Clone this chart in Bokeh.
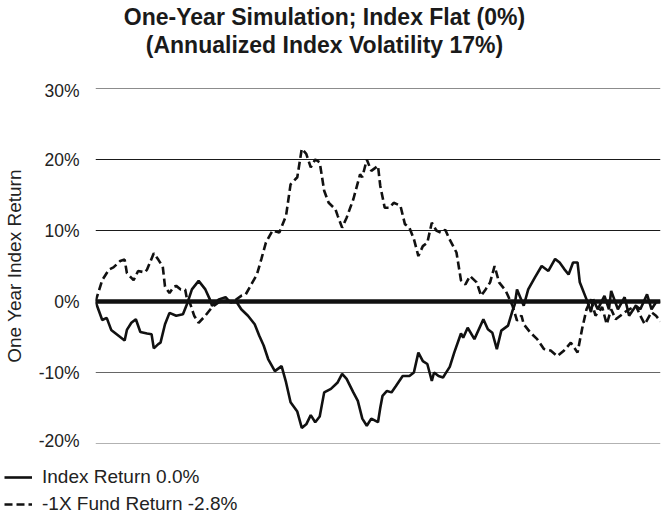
import numpy as np
from bokeh.plotting import figure
from bokeh.layouts import column
from bokeh.models import (Range1d, FixedTicker, NumeralTickFormatter, Span, Label,
                          Legend, LegendItem)
from bokeh.embed import file_html
from bokeh.resources import INLINE

# ---------------- data ----------------
title_line1 = "One-Year Simulation; Index Flat (0%)"
title_line2 = "(Annualized Index Volatility 17%)"
y_axis_label = "One Year Index Return"
y_ticks = [-0.2, -0.1, 0.0, 0.1, 0.2, 0.3]
legend_labels = ["Index Return 0.0%", "-1X Fund Return -2.8%"]

index_days = [0, 3, 5, 7, 9, 11, 13, 14, 16, 18, 20, 23, 25, 26, 28, 29, 31, 33, 36, 39,
              41, 43, 46, 49, 51, 52, 55, 58, 60, 63, 65, 68, 71, 73, 75, 77, 80, 83, 85, 87,
              90, 92, 94, 96, 98, 100, 102, 105, 108, 110, 112, 115, 117, 119, 121, 123, 126,
              127, 128, 130, 132, 134, 137, 140, 142, 144, 146, 148, 150, 151, 153, 155, 156,
              158, 160, 163, 164, 166, 169, 173, 175, 177, 179, 181, 184, 186, 187, 188, 191,
              193, 196, 199, 202, 205, 207, 209, 211, 213, 215, 216, 219, 221, 222, 224, 227,
              229, 230, 233, 236, 238, 241, 243, 246, 248, 250, 252]
index_pct = [0.0, -2.6, -2.3, -4.0, -4.5, -5.0, -5.5, -4.0, -3.0, -2.5, -4.3, -4.5, -4.6, -6.6,
             -6.0, -5.8, -3.2, -1.6, -2.0, -1.8, -0.2, 1.7, 2.9, 1.7, 0.3, -0.6, 0.3, 0.6, -0.1,
             -0.1, -1.1, -2.0, -3.2, -4.8, -6.2, -8.1, -9.8, -9.1, -11.4, -14.2, -15.5, -17.8,
             -17.3, -16.0, -17.0, -16.2, -12.8, -12.3, -11.4, -10.2, -10.9, -12.8, -14.0, -16.5,
             -17.5, -16.5, -17.0, -15.0, -13.3, -12.6, -12.8, -11.9, -10.5, -10.5, -10.0, -7.2,
             -8.4, -8.8, -11.2, -10.0, -10.5, -10.7, -10.2, -9.2, -7.2, -4.5, -5.1, -3.7, -5.3,
             -2.5, -3.9, -4.4, -6.7, -4.1, -3.4, -1.3, -0.4, 1.7, -0.6, 1.7, 3.4, 5.0, 4.3, 6.0,
             5.5, 4.6, 3.8, 5.5, 5.5, 2.7, 0.3, -1.5, 0.3, -1.1, 0.8, -1.1, 1.5, -1.1, 0.6, -2.0,
             -0.6, -1.1, 1.0, -1.1, -0.1, 0.0]

fund_days = [0, 3, 6, 8, 11, 13, 14, 17, 19, 22, 23, 26, 28, 30, 31, 33, 35, 36, 38, 40, 41,
             42, 44, 46, 49, 52, 55, 58, 61, 65, 67, 70, 72, 74, 76, 79, 82, 85, 87, 90, 92, 94,
             96, 98, 100, 102, 104, 107, 108, 110, 112, 115, 118, 119, 121, 123, 126, 127, 129,
             131, 133, 136, 138, 140, 142, 144, 146, 148, 150, 152, 154, 156, 158, 161, 163,
             165, 167, 170, 172, 174, 176, 178, 180, 183, 186, 188, 190, 191, 194, 197, 200,
             203, 206, 209, 212, 215, 217, 219, 221, 223, 226, 228, 230, 232, 235, 237, 241,
             243, 245, 248, 250, 252]
fund_pct = [0.0, 3.0, 4.5, 4.8, 5.7, 5.9, 4.0, 3.0, 4.3, 4.1, 4.5, 6.8, 5.9, 4.9, 2.1, 1.2,
            2.1, 2.2, 1.7, 1.7, 0.0, -0.1, -2.0, -3.0, -2.0, -0.8, -0.1, 0.1, -0.1, 0.8, 1.0,
            2.7, 3.8, 6.0, 8.3, 10.0, 9.7, 12.1, 16.5, 17.5, 21.5, 20.8, 18.9, 20.0, 19.6, 15.6,
            13.9, 13.0, 12.1, 10.4, 11.8, 14.4, 17.9, 17.5, 20.0, 18.4, 19.1, 16.3, 13.2, 13.2,
            13.9, 13.5, 10.9, 10.4, 8.8, 6.4, 7.8, 8.3, 11.1, 10.0, 9.7, 10.1, 8.7, 6.9, 3.0,
            2.4, 3.6, 2.7, 0.8, 1.7, 2.7, 5.0, 2.7, 1.5, -0.6, -2.7, -2.0, -3.2, -4.4, -5.3,
            -6.7, -6.9, -7.7, -6.9, -5.8, -7.2, -3.9, -1.1, 0.3, -2.0, -0.8, -3.2, -1.1, -2.5,
            -1.8, -1.3, -0.6, -2.0, -3.2, -1.5, -2.0, -2.8]

# ---------------- styling ----------------
FONT = "Liberation Sans"
INK = "#111111"
TEXT = "#222222"
W = 661
SOLID = dict(line_color=INK, line_width=2.6)
DASHED = dict(line_color=INK, line_width=2.6, line_dash="8 4")


def bare(fig):
    fig.outline_line_color = None
    fig.axis.visible = False
    fig.grid.visible = False
    fig.background_fill_color = "white"
    fig.border_fill_color = "white"
    fig.frame_align = False
    return fig


# ---------------- title strip ----------------
TH = 80
pt = bare(figure(width=W, height=TH, output_backend="svg", toolbar_location=None,
                 x_range=Range1d(0, W), y_range=Range1d(0, TH),
                 min_border=0))
for txt, yy in ((title_line1, TH - 16), (title_line2, TH - 44)):
    pt.add_layout(Label(x=324, y=yy, text=txt, text_align="center", text_baseline="middle",
                        text_font=FONT, text_font_size="23px", text_font_style="bold",
                        text_color="#1a1a1a"))

# ---------------- main chart ----------------
p = figure(width=W, height=370, output_backend="svg", toolbar_location=None,
           x_range=Range1d(0, 252), y_range=Range1d(-0.2, 0.3),
           min_border_left=85, min_border_right=1, min_border_top=8, min_border_bottom=7)
p.frame_align = False
p.outline_line_color = None
p.background_fill_color = "white"
p.border_fill_color = "white"
p.xaxis.visible = False
p.xgrid.visible = False
p.ygrid.visible = False

ax = p.yaxis[0]
ax.ticker = FixedTicker(ticks=y_ticks)
ax.formatter = NumeralTickFormatter(format="0%")
ax.axis_line_color = None
ax.major_tick_line_color = None
ax.minor_tick_line_color = None
ax.major_label_standoff = 10
ax.major_label_text_font = FONT
ax.major_label_text_font_size = "17.5px"
ax.major_label_text_color = TEXT
ax.axis_label = y_axis_label
ax.axis_label_text_font = FONT
ax.axis_label_text_font_size = "19px"
ax.axis_label_text_font_style = "normal"
ax.axis_label_text_color = TEXT
ax.axis_label_standoff = 11

for t in y_ticks:
    if t == 0:
        continue
    p.add_layout(Span(location=t, dimension="width",
                      line_color="#1a1a1a" if t > 0 else "#666666", line_width=1.2,
                      level="underlay"))

p.line(fund_days, np.array(fund_pct) / 100.0, **DASHED)
p.line(index_days, np.array(index_pct) / 100.0, **SOLID)

p.add_layout(Span(location=0.0, dimension="width", line_color=INK, line_width=4.5))

# ---------------- legend strip ----------------
LH = 65
pl = bare(figure(width=W, height=LH, output_backend="svg", toolbar_location=None,
                 x_range=Range1d(0, 1), y_range=Range1d(0, 1), min_border=0))
k_index = pl.line([np.nan], [np.nan], **SOLID)
k_fund = pl.line([np.nan], [np.nan], **DASHED)
legend = Legend(items=[LegendItem(label=legend_labels[0], renderers=[k_index]),
                       LegendItem(label=legend_labels[1], renderers=[k_fund])],
                location=(4, 0), padding=0, margin=0, spacing=5,
                glyph_width=28, glyph_height=20, label_height=20, label_standoff=10,
                label_text_font=FONT, label_text_font_size="19px",
                label_text_color=TEXT,
                border_line_color=None, background_fill_alpha=0)
pl.add_layout(legend)

open("out.html", "w").write(file_html(column(pt, p, pl, spacing=0), INLINE))
